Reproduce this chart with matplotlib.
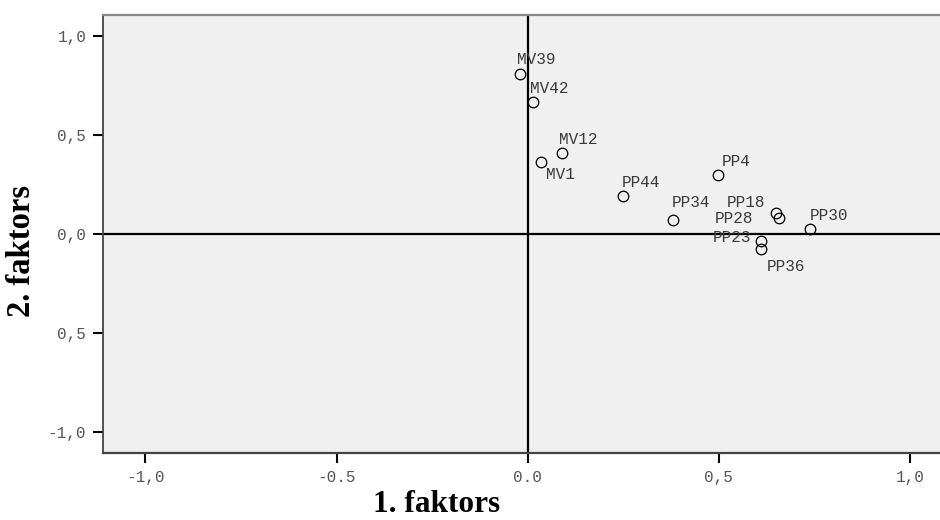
import matplotlib
matplotlib.use("Agg")
from matplotlib import pyplot as plt

# factor loadings
names = ["MV39", "MV42", "MV12", "MV1", "PP4", "PP44", "PP34",
         "PP18", "PP28", "PP30", "PP23", "PP36"]
factor1 = [-0.021, 0.015, 0.090, 0.036, 0.497, 0.250, 0.380,
           0.649, 0.658, 0.740, 0.611, 0.611]
factor2 = [0.810, 0.667, 0.409, 0.367, 0.299, 0.192, 0.072,
           0.106, 0.081, 0.025, -0.032, -0.074]

x_ticks = [-1.0, -0.5, 0.0, 0.5, 1.0]
x_tick_labels = ["-1,0", "-0.5", "0.0", "0,5", "1,0"]
y_ticks = [1.0, 0.5, 0.0, -0.5, -1.0]
y_tick_labels = ["1,0", "0,5", "0,0", "0,5", "-1,0"]

# label offsets in pixels (dx, dy, horizontal alignment)
offsets = {
    "MV39": (-3, 14, "left"), "MV42": (-3, 14, "left"),
    "MV12": (-3, 14, "left"), "MV1": (5, -13, "left"),
    "PP4": (4, 14, "left"), "PP44": (-1, 14, "left"),
    "PP34": (-1, 18, "left"), "PP18": (-10, 11, "right"),
    "PP28": (-26, 0, "right"), "PP30": (-1, 14, "left"),
    "PP23": (-10, 3, "right"), "PP36": (6, -18, "left"),
}

fig = plt.figure(figsize=(9.4, 5.2), dpi=100)
ax = fig.add_axes([103/940, 67/520, 837/940, 438/520])
ax.set_facecolor("#f0f0f0")

ax.axhline(0, color="black", lw=1.6, zorder=1)
ax.axvline(0, color="black", lw=1.6, zorder=1)

ax.plot(factor1, factor2, "o", ms=7.6, mfc="none", mec="black",
        mew=0.9, zorder=3)

for n, x, y in zip(names, factor1, factor2):
    dx, dy, ha = offsets[n]
    ax.annotate(n, (x, y), xytext=(dx, dy), textcoords="offset pixels",
                ha=ha, va="center", fontsize=11.5, color="#3a3a3a",
                family="Liberation Mono")

ax.set_xlim(-1.111, 1.079)
ax.set_ylim(-1.1045, 1.1076)
ax.set_xticks(x_ticks)
ax.set_xticklabels(x_tick_labels)
ax.set_yticks(y_ticks)
ax.set_yticklabels(y_tick_labels)
ax.tick_params(direction="out", length=7, width=1.5, color="black",
               labelsize=11.5, labelcolor="#555555", pad=5)
for lab in ax.get_xticklabels() + ax.get_yticklabels():
    lab.set_family("Liberation Mono")

ax.spines["right"].set_visible(False)
ax.spines["top"].set_color("#888888")
ax.spines["top"].set_linewidth(1.6)
ax.spines["left"].set_color("#444444")
ax.spines["left"].set_linewidth(1.3)
ax.spines["bottom"].set_color("#444444")
ax.spines["bottom"].set_linewidth(1.6)

fig.text(437/940, 1 - 505/520, "1. faktors", ha="center", va="center",
         fontsize=22.5, fontweight="bold", family="Liberation Serif")
fig.text(21.5/940, 1 - 251/520, "2. faktors", ha="center", va="center",
         rotation=90, fontsize=23.5, fontweight="bold",
         family="Liberation Serif")

fig.savefig("out.png", dpi=100)
